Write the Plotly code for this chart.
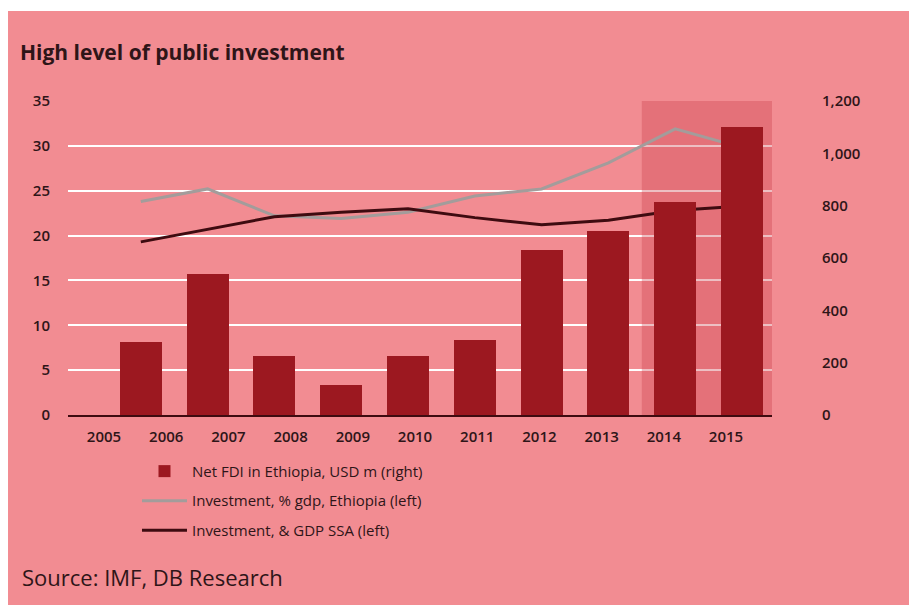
import plotly.graph_objects as go

# Data
years = ["2005", "2006", "2007", "2008", "2009", "2010",
         "2011", "2012", "2013", "2014", "2015"]
fdi_usd_m = [0, 279, 539, 225, 115, 227, 287, 631, 703, 815, 1102]
inv_ethiopia = [None, 23.8, 25.2, 22.2, 21.9, 22.6, 24.4, 25.2, 28.1, 31.9, 29.8]
inv_ssa = [None, 19.3, 20.7, 22.1, 22.6, 23.0, 22.0, 21.2, 21.7, 22.8, 23.3]

left_ticks = list(range(0, 36, 5))
right_ticks = list(range(0, 1201, 200))

PINK = "#F28C92"
BAR = "#9C1820"
GREY = "#A39C9B"
DARK = "#3E0B10"
TEXT = "#2E1518"
FONT = "Open Sans"

idx = list(range(len(years)))

fig = go.Figure()

fig.add_trace(go.Bar(
    x=idx, y=fdi_usd_m, yaxis="y2", width=0.63,
    marker=dict(color=BAR, line=dict(width=0)),
    name="Net FDI in Ethiopia, USD m (right)", legendgroup="a",
))
fig.add_trace(go.Scatter(
    x=idx, y=inv_ethiopia, mode="lines",
    line=dict(color=GREY, width=3),
    name="Investment, % gdp, Ethiopia (left)", legendgroup="b",
))
fig.add_trace(go.Scatter(
    x=idx, y=inv_ssa, mode="lines",
    line=dict(color=DARK, width=3),
    name="Investment, & GDP SSA (left)", legendgroup="c",
))
# Empty carrier so the year-label axis gets drawn
fig.add_trace(go.Scatter(
    x=idx, y=[None] * len(idx), xaxis="x2", mode="lines",
    showlegend=False, hoverinfo="skip",
))

x_range = [-0.09, 10.449]
tick_font = dict(family=FONT, size=15, color=TEXT, weight=600)

fig.update_layout(
    width=909, height=605,
    margin=dict(l=68, r=137, t=101, b=190),
    paper_bgcolor="white",
    plot_bgcolor="rgba(0,0,0,0)",
    font=dict(family=FONT, color=TEXT, size=14),
    showlegend=True,
    bargap=0,
    xaxis=dict(
        range=x_range, showgrid=False, zeroline=False,
        showline=True, linecolor=DARK, linewidth=2,
        showticklabels=False, ticks="",
    ),
    xaxis2=dict(
        overlaying="x", anchor="y", side="bottom",
        range=[-0.579, 10.739],
        tickmode="array", tickvals=idx, ticktext=years,
        showgrid=False, zeroline=False, showline=False, ticks="",
        tickfont=tick_font,
        ticklabelstandoff=11,
    ),
    yaxis=dict(
        range=[0, 35], tickvals=left_ticks,
        showgrid=True, gridcolor="white", gridwidth=2,
        zeroline=False, showline=False, ticks="",
        tickfont=tick_font,
        ticklabelstandoff=17,
    ),
    yaxis2=dict(
        range=[0, 1200], overlaying="y", side="right",
        tickvals=right_ticks,
        ticktext=[f"{v:,}" for v in right_ticks],
        showgrid=False, zeroline=False, showline=False, ticks="",
        tickfont=tick_font,
        ticklabelstandoff=49,
    ),
    legend=dict(
        x=0.098, xanchor="left", y=-0.127, yanchor="top",
        bgcolor="rgba(0,0,0,0)", font=dict(size=15, color=TEXT),
        tracegroupgap=7, itemwidth=45,
    ),
    title=dict(
        text="<b>High level of public investment</b>",
        xref="container", yref="container",
        x=20 / 909, xanchor="left", y=1 - 53 / 605, yanchor="middle",
        font=dict(family=FONT, size=21, color=TEXT),
    ),
)

# Pink panel behind the whole chart
fig.add_shape(type="rect", xref="paper", yref="paper",
              x0=-0.0852, x1=1.3, y0=-0.7, y1=1.2866,
              fillcolor=PINK, line=dict(width=0), layer="below")

# Highlighted forecast years
fig.add_shape(type="rect", xref="x", yref="y",
              x0=8.5, x1=x_range[1], y0=0, y1=35,
              fillcolor="rgba(200,55,68,0.32)", line=dict(width=0),
              layer="between")

fig.add_annotation(
    text="Source: IMF, DB Research", xref="paper", yref="paper",
    x=(20 - 68) / 704, y=(415 - 577) / 314, xanchor="left", yanchor="middle",
    showarrow=False, font=dict(family=FONT, size=22, color=TEXT),
)

fig.write_html("out.html")
